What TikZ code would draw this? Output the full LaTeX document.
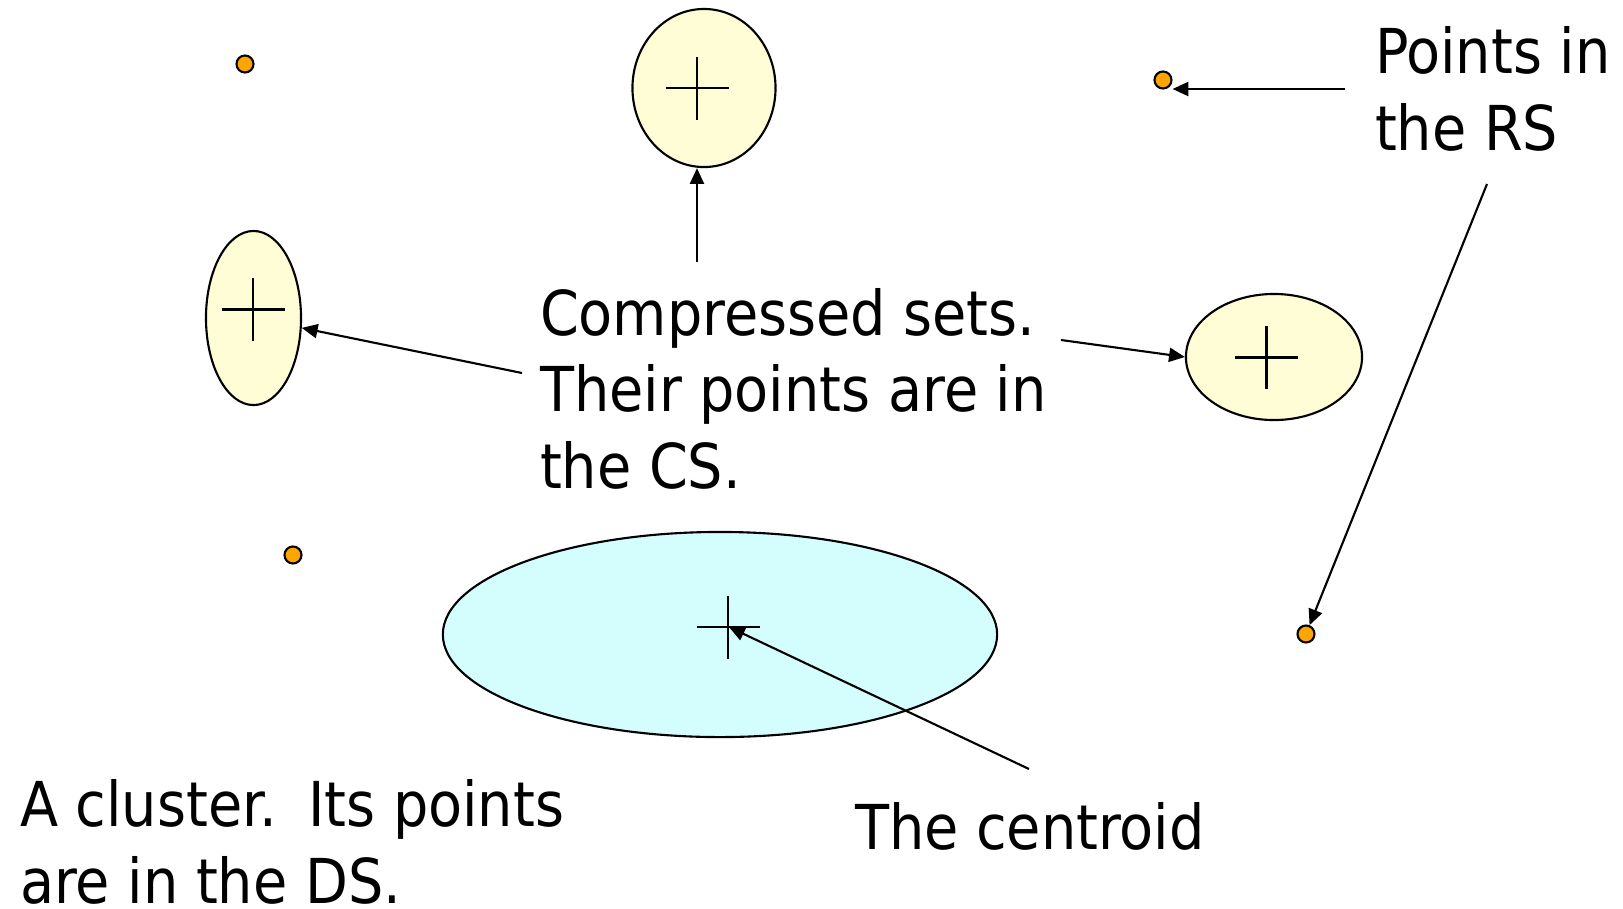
\documentclass[tikz,border=0pt]{standalone}
\usepackage{fontspec}
\setmainfont{DejaVu Sans Condensed}
\usetikzlibrary{shapes.geometric,arrows.meta}
\definecolor{setyellow}{RGB}{255,253,214}
\definecolor{clustercyan}{RGB}{212,254,254}
\definecolor{dotorange}{RGB}{255,165,0}

\begin{document}
\begin{tikzpicture}[x=0.01cm,y=-0.01cm,line width=0.6pt,
	>={Triangle[length=4.5pt,width=4pt]},
	dot/.style={circle,draw,fill=dotorange,minimum size=0.17cm,inner sep=0pt},
	cset/.style={ellipse,draw,fill=setyellow,inner sep=0pt},
	txt/.style={anchor=base west,align=left,inner sep=0pt,font=\fontsize{17.6}{21.8}\selectfont}]
			\useasboundingbox (0,0) rectangle (1623,908);
			\node[dot] (rsA) at (1163,80) {};
			\node[dot] (rsB) at (1306,634) {};
			\node[dot] (rsC) at (245,64) {};
			\node[dot] (rsD) at (293,555) {};
			\node[cset,minimum width=1.43cm,minimum height=1.58cm] (topset) at (704,88) {};
			\node[cset,minimum width=0.95cm,minimum height=1.74cm] (leftset) at (253.5,318) {};
			\node[cset,minimum width=1.76cm,minimum height=1.26cm] (rightset) at (1274,357) {};
			\node[ellipse,draw,fill=clustercyan,inner sep=0pt,minimum width=5.54cm,minimum height=2.05cm] (cluster) at (720,634.5) {};
			\foreach \cx/\cy in {697/88,253/309.5,1266.5/357.5,728/627}
				\draw (\cx-31.5,\cy) -- (\cx+31.5,\cy) (\cx,\cy-31.5) -- (\cx,\cy+31.5);
			\coordinate (centroid) at (729,627);
			\node[txt] (rsText) at (1374,150) {Points in\\the RS};
			\node[txt] (csText) at (539,488.5) {Compressed sets.\\Their points are in\\the CS.};
			\node[txt] (clText) at (19,903) {A cluster.\hspace{0.5em}Its points\\are in the DS.};
			\node[txt] (cenText) at (854,849) {The centroid};
			\coordinate (topTail) at (697,262);
			\coordinate (leftTail) at (522,373);
			\coordinate (rightTail) at (1061,340);
			\coordinate (rsTailA) at (1345,89);
			\coordinate (rsTailB) at (1487,184);
			\coordinate (cenTail) at (1029,769);
			\draw[->] (topTail) -- (topTail |- topset.south);
			\draw[->] (leftTail) -- (leftset);
			\draw[->] (rightTail) -- (rightset.west);
			\draw[->] (rsTailA) -- (rsTailA -| rsA.east);
			\draw[->] (rsTailB) -- (rsB);
			\draw[->] (cenTail) -- (centroid);
		\end{tikzpicture}
\end{document}
